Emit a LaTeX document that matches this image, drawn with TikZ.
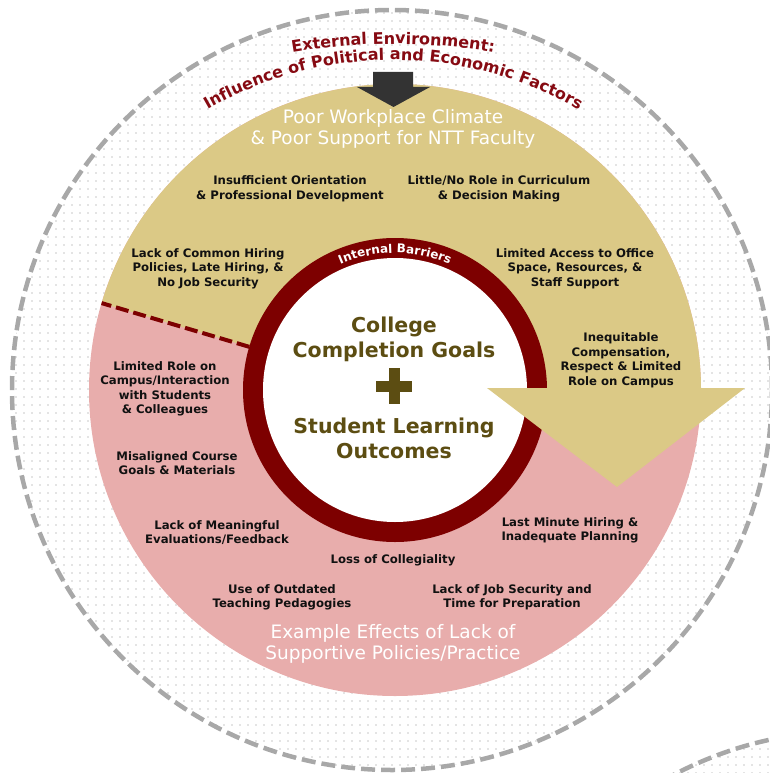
\documentclass[tikz,border=0pt]{standalone}
\usepackage{fontspec}
\setmainfont{DejaVu Sans}
\usetikzlibrary{decorations.text, patterns.meta}
\definecolor{CampusGold}{HTML}{DBC986}
\definecolor{CampusRose}{HTML}{E8ADAC}
\definecolor{CampusGarnet}{HTML}{7D0000}
\definecolor{GoalOlive}{HTML}{5C4D12}
\definecolor{TitleRed}{HTML}{860A12}
\definecolor{ArrowDark}{HTML}{333333}
\definecolor{DashGray}{HTML}{A8A8A8}
\definecolor{DotGray}{HTML}{8C8C8C}
\definecolor{TextBlack}{HTML}{111111}
\tikzset{
    barrier/.style={
        font=\fontsize{11.7}{14.5}\selectfont\bfseries,
        text=TextBlack,
        align=center,
        inner sep=0pt
    },
    heading/.style={
        font=\fontsize{18.5}{21}\selectfont,
        text=white,
        align=center,
        inner sep=0pt
    },
    goal/.style={
        font=\fontsize{20.5}{25}\selectfont\bfseries,
        text=GoalOlive,
        align=center,
        inner sep=0pt
    },
    dotband/.style={
        pattern={Dots[distance=8pt, radius=0.6pt]},
        pattern color=DotGray
    },
    outerline/.style={
        draw=DashGray,
        line width=4.5pt,
        dash pattern=on 14pt off 6pt
    }
}

\begin{document}
\begin{tikzpicture}[x=1pt, y=1pt]
        \useasboundingbox (0,0) rectangle (770,-773);
        \clip (0,0) rectangle (770,-773);

        % External environment
        \coordinate (env) at (392,-390);
        \coordinate (nextenv) at (851,-1111);
        \fill[dotband] (env) circle[radius=380];
        \fill[dotband] (nextenv) circle[radius=380];
        \draw[outerline] (env) circle[radius=380];
        \draw[outerline] (nextenv) circle[radius=380];

        % Climate (top) and effects (bottom)
        \coordinate (hub) at (395,-390);
        \fill[CampusRose] (hub) circle[radius=306];
        \fill[CampusGold] (hub) -- ++(163.5:306) arc[start angle=163.5, end angle=-2, radius=306] -- cycle;
        \draw[CampusGarnet, line width=4pt, dash pattern=on 13pt off 5pt] (hub) ++(163.5:152) -- ++(163.5:154);

        % Internal barriers ring
        \fill[CampusGarnet] (hub) circle[radius=152];
        \fill[white] (hub) circle[radius=132];

        % Head of the climate arrow
        \fill[CampusGold] (487,-388) -- (745,-388) -- (617,-487) -- cycle;

        % Outside pressure
        \fill[ArrowDark] (373,-72) -- (413,-72) -- (413,-87) -- (430,-87) -- (393.5,-107) -- (357,-87) -- (373,-87) -- cycle;

        % Curved titles
        \path[decorate, decoration={text along path, text align=center, text color=TitleRed,
            text={|\fontsize{16}{16}\selectfont\bfseries|External Environment:}}]
            (393,-644) ++(115:600) arc[start angle=115, end angle=65, radius=600];
        \path[decorate, decoration={text along path, text align=center, text color=TitleRed,
            text={|\fontsize{16}{16}\selectfont\bfseries|Influence of Political and Economic Factors}}]
            (393,-431) ++(128:371) arc[start angle=128, end angle=52, radius=371];
        \path[decorate, decoration={text along path, text align=center, text color=white,
            text={|\fontsize{12}{12}\selectfont\bfseries|Internal Barriers}}]
            (hub) ++(150:137) arc[start angle=150, end angle=30, radius=137];

        % Headings
        \node[heading] (climate) at (393,-128.5) {Poor Workplace Climate\\\& Poor Support for NTT Faculty};
        \node[heading] (effects) at (393,-644) {Example Effects of Lack of\\Supportive Policies/Practice};

        % Goals
        \node[goal] (completion) at (394,-339) {College\\Completion Goals};
        \fill[GoalOlive] (376,-380.5) rectangle (412,-391.5);
        \fill[GoalOlive] (388.5,-368) rectangle (399.5,-404);
        \node[goal] (learning) at (394,-438) {Student Learning\\Outcomes};

        % Barriers in the climate band
        \node[barrier] (orientation) at (290,-189) {Insufficient Orientation\\\& Professional Development};
        \node[barrier] (curriculum) at (499,-189) {Little/No Role in Curriculum\\\& Decision Making};
        \node[barrier] (hiring) at (208,-268.5) {Lack of Common Hiring\\Policies, Late Hiring, \&\\No Job Security};
        \node[barrier] (office) at (575,-268.5) {Limited Access to Office\\Space, Resources, \&\\Staff Support};
        \node[barrier] (pay) at (621,-360.5) {Inequitable\\Compensation,\\Respect \& Limited\\Role on Campus};

        % Effects
        \node[barrier] (role) at (165,-389) {Limited Role on\\Campus/Interaction\\with Students\\\& Colleagues};
        \node[barrier] (course) at (177,-463) {Misaligned Course\\Goals \& Materials};
        \node[barrier] (feedback) at (217,-532.5) {Lack of Meaningful\\Evaluations/Feedback};
        \node[barrier] (planning) at (570,-530.5) {Last Minute Hiring \&\\Inadequate Planning};
        \node[barrier] (collegiality) at (393,-560) {Loss of Collegiality};
        \node[barrier] (pedagogy) at (282,-597.5) {Use of Outdated\\Teaching Pedagogies};
        \node[barrier] (preparation) at (512,-597.5) {Lack of Job Security and\\Time for Preparation};
\end{tikzpicture}
\end{document}
